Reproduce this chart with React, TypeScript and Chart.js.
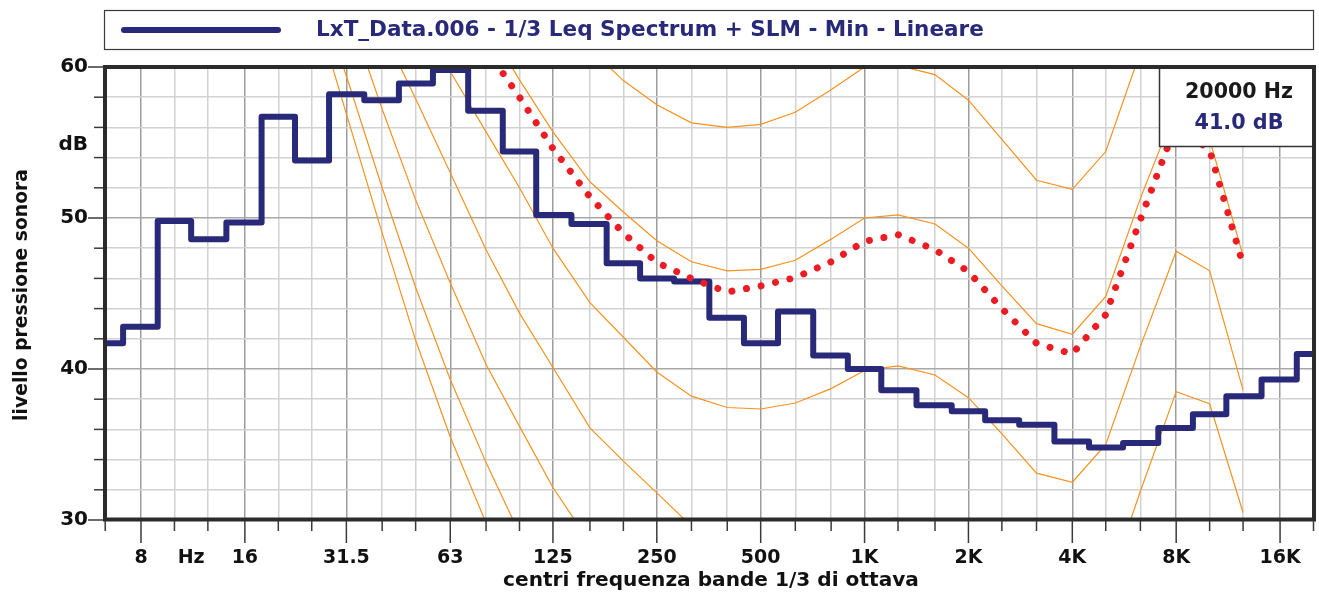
import React, { useEffect, useRef } from 'react';
import { Chart, registerables } from 'chart.js';

Chart.register(...registerables);

// ---------- axes ----------
const FREQ_MIN = 6.25;
const FREQ_MAX = 20000;
const DB_MIN = 30;
const DB_MAX = 60;
const DB_STEP = 2;

// ---------- 1/3 octave bands ----------
const BANDS = [6.3, 8, 10, 12.5, 16, 20, 25, 31.5, 40, 50, 63, 80, 100, 125, 160, 200, 250, 315, 400, 500, 630, 800, 1000, 1250, 1600, 2000, 2500, 3150, 4000, 5000, 6300, 8000, 10000, 12500, 16000, 20000];
const BAND_LABELS = ['', '8', '', '', '16', '', '', '31.5', '', '', '63', '', '', '125', '', '', '250', '', '', '500', '', '', '1K', '', '', '2K', '', '', '4K', '', '', '8K', '', '', '16K', ''];

// Leq spectrum (Min) per band, dB
const LEQ_MIN = [41.7, 42.8, 49.8, 48.6, 49.7, 56.7, 53.8, 58.2, 57.8, 58.9, 59.8, 57.1, 54.4, 50.2, 49.6, 47.0, 46.0, 45.8, 43.4, 41.7, 43.8, 40.9, 40.0, 38.6, 37.6, 37.2, 36.6, 36.3, 35.2, 34.8, 35.1, 36.1, 37.0, 38.2, 39.3, 41.0];

// ---------- equal loudness contours (20 Hz .. 12.5 kHz) ----------
const CONTOUR_BANDS = [20, 25, 31.5, 40, 50, 63, 80, 100, 125, 160, 200, 250, 315, 400, 500, 630, 800, 1000, 1250, 1600, 2000, 2500, 3150, 4000, 5000, 6300, 8000, 10000, 12500];
const CONTOUR_60 = [95, 89, 84, 79, 75, 71.5, 68.5, 66.5, 64, 61.2, 59.1, 57.5, 56.3, 56.0, 56.2, 57.0, 58.5, 60.0, 60.1, 59.5, 57.8, 55.2, 52.5, 51.9, 54.4, 61.0, 67.0, 64.5, 56.5];
const CONTOUR_50 = [88, 82, 77, 72.5, 69, 66.3, 62.8, 59.15, 55.7, 52.4, 50.4, 48.5, 47.1, 46.5, 46.6, 47.2, 48.6, 50.0, 50.2, 49.6, 48.0, 45.5, 43.0, 42.3, 44.8, 51.3, 57.3, 55.2, 47.5];
const CONTOUR_40 = [84, 78, 73, 68.5, 64, 59.7, 55.7, 52.0, 48.0, 44.4, 42.1, 39.8, 38.2, 37.45, 37.35, 37.75, 38.7, 39.9, 40.2, 39.6, 38.1, 35.7, 33.1, 32.5, 35.0, 41.5, 47.8, 46.5, 38.6];
const CONTOUR_30 = [80, 74, 68, 62.5, 57.9, 53.0, 47.9, 43.7, 40.1, 36.1, 33.9, 31.8, 29.6, 28.4, 28.3, 28.7, 29.2, 30.0, 30.12, 29.5, 28.0, 25.7, 23.3, 22.8, 25.2, 31.9, 38.5, 37.7, 30.5];
const CONTOUR_20 = [76, 70.5, 64.1, 57.2, 51.2, 45.7, 40.3, 36.2, 32.15, 28.5, 25.8, 23.5, 21.5, 20.4, 20.3, 20.7, 21.2, 22.0, 22.1, 21.5, 20.0, 17.7, 15.3, 14.8, 17.2, 23.9, 28.5, 27.7, 21.5];
const CONTOUR_10 = [73, 66.1, 59.4, 52.0, 45.4, 39.3, 33.8, 29.1, 25.0, 21.5, 19.0, 17.0, 15.0, 13.8, 13.5, 13.8, 14.3, 15.0, 15.1, 14.5, 13.0, 10.7, 8.3, 7.8, 10.2, 16.9, 21.5, 20.7, 14.5];
const CONTOUR_0 = [71, 64.6, 56.9, 49.0, 41.9, 35.5, 29.8, 25.0, 21.2, 18.0, 15.5, 13.5, 11.5, 10.3, 10.0, 10.3, 10.8, 11.5, 11.6, 11.0, 9.5, 7.2, 4.8, 4.3, 6.7, 13.4, 18.0, 17.2, 11.0];
// contour matching the spectrum (dotted red)
const LOUDNESS_CONTOUR = [87, 81, 76, 71.5, 67.5, 64.3, 61.2, 58.0, 54.6, 51.4, 49.0, 47.05, 46.0, 45.1, 45.5, 46.05, 47.1, 48.45, 48.9, 47.9, 46.45, 44.0, 41.7, 41.0, 43.6, 49.9, 56.2, 54.5, 46.9];

// ---------- texts ----------
const LEGEND_TEXT = 'LxT_Data.006 - 1/3 Leq Spectrum + SLM - Min - Lineare';
const X_TITLE = 'centri frequenza bande 1/3 di ottava';
const Y_TITLE = 'livello pressione sonora';
const X_UNIT = 'Hz';
const Y_UNIT = 'dB';
const CURSOR_FREQ = '20000 Hz';
const CURSOR_LEVEL = '41.0 dB';

const NAVY = '#29297A';
const ORANGE = '#F7921E';
const RED = '#EC1C24';
const FAMILY = '"DejaVu Sans", "Noto Sans", sans-serif';

function fitSize(ctx: CanvasRenderingContext2D, text: string, width: number): number {
  ctx.font = `bold 100px ${FAMILY}`;
  const w = ctx.measureText(text).width;
  return (100 * width) / w;
}

const decorPlugin = {
  id: 'decor',
  afterDatasetsDraw(chart: any) {
    const { ctx, chartArea: a, scales } = chart;
    const xs = scales.x;
    const ys = scales.y;
    ctx.save();

    // cursor readout box
    const bx = 1159;
    const by = a.top;
    const bw = a.right - bx;
    const bh = 79;
    ctx.fillStyle = '#ffffff';
    ctx.fillRect(bx, by, bw, bh);
    ctx.strokeStyle = '#333333';
    ctx.lineWidth = 1.5;
    ctx.strokeRect(bx + 0.5, by + 0.5, bw, bh);
    ctx.textAlign = 'center';
    ctx.textBaseline = 'middle';
    let s = fitSize(ctx, CURSOR_FREQ, 108);
    ctx.font = `bold ${s}px ${FAMILY}`;
    ctx.fillStyle = '#1a1a1a';
    ctx.fillText(CURSOR_FREQ, 1239, 93);
    s = fitSize(ctx, CURSOR_LEVEL, 89);
    ctx.font = `bold ${s}px ${FAMILY}`;
    ctx.fillStyle = NAVY;
    ctx.fillText(CURSOR_LEVEL, 1239, 124);

    // plot frame
    ctx.strokeStyle = '#2b2b2b';
    ctx.lineWidth = 4;
    ctx.strokeRect(a.left + 1, a.top, a.right - a.left - 0.5, a.bottom - a.top - 0.5);

    // tick marks
    ctx.strokeStyle = '#3a3a3a';
    ctx.lineWidth = 1.5;
    xs.ticks.forEach((t: any, i: number) => {
      const px = xs.getPixelForValue(t.value);
      const len = BAND_LABELS[i] ? 23 : 11;
      ctx.beginPath();
      ctx.moveTo(px, a.bottom + 1);
      ctx.lineTo(px, a.bottom + len);
      ctx.stroke();
    });
    ys.ticks.forEach((t: any) => {
      const py = ys.getPixelForValue(t.value);
      const len = t.value % 10 === 0 ? 16 : 10;
      ctx.beginPath();
      ctx.moveTo(a.left - len, py);
      ctx.lineTo(a.left - 1, py);
      ctx.stroke();
    });
    ctx.restore();
  },
  afterDraw(chart: any) {
    const { ctx, scales } = chart;
    const xs = scales.x;
    const ys = scales.y;
    ctx.save();

    // legend
    ctx.strokeStyle = '#3a3a3a';
    ctx.lineWidth = 1.2;
    ctx.strokeRect(104.5, 10.5, 1209, 39);
    ctx.strokeStyle = NAVY;
    ctx.lineWidth = 6;
    ctx.lineCap = 'round';
    ctx.beginPath();
    ctx.moveTo(124, 30);
    ctx.lineTo(278, 30);
    ctx.stroke();
    let s = fitSize(ctx, LEGEND_TEXT, 668);
    ctx.font = `bold ${s}px ${FAMILY}`;
    ctx.fillStyle = NAVY;
    ctx.textAlign = 'left';
    ctx.textBaseline = 'middle';
    ctx.fillText(LEGEND_TEXT, 316, 30);

    // unit labels on axes
    ctx.fillStyle = '#111111';
    ctx.font = `bold 19px ${FAMILY}`;
    ctx.textAlign = 'center';
    ctx.fillText(X_UNIT, xs.getPixelForValue(Math.sqrt(10 * 12.5)), 558);
    ctx.font = `bold 20px ${FAMILY}`;
    ctx.textAlign = 'right';
    ctx.fillText(Y_UNIT, 88, ys.getPixelForValue(54.85));

    // axis titles
    s = fitSize(ctx, X_TITLE, 416);
    ctx.font = `bold ${s}px ${FAMILY}`;
    ctx.textAlign = 'center';
    ctx.fillText(X_TITLE, 711, 581);
    s = fitSize(ctx, Y_TITLE, 252);
    ctx.font = `bold ${s}px ${FAMILY}`;
    ctx.translate(22, 295);
    ctx.rotate(-Math.PI / 2);
    ctx.fillText(Y_TITLE, 0, 0);
    ctx.restore();
  },
};

const toPoints = (freqs: number[], vals: number[]) => freqs.map((f, i) => ({ x: f, y: vals[i] }));

const orange = (label: string, vals: number[]) => ({
  label,
  data: toPoints(CONTOUR_BANDS, vals),
  borderColor: ORANGE,
  borderWidth: 1.2,
  pointRadius: 0,
  fill: false,
  tension: 0,
});

export default function App() {
  const ref = useRef<HTMLCanvasElement>(null);
  useEffect(() => {
    const chart = new Chart(ref.current as HTMLCanvasElement, {
      type: 'line',
      data: {
        datasets: [
          {
            label: 'loudness',
            data: toPoints(CONTOUR_BANDS, LOUDNESS_CONTOUR),
            borderColor: RED,
            borderWidth: 7,
            borderDash: [0.01, 14.8],
            borderCapStyle: 'round',
            pointRadius: 0,
            fill: false,
            tension: 0,
          },
          {
            label: LEGEND_TEXT,
            data: toPoints(BANDS, LEQ_MIN),
            stepped: 'middle',
            borderColor: NAVY,
            borderWidth: 6,
            borderJoinStyle: 'round',
            pointRadius: 0,
            fill: false,
          },
          orange('60', CONTOUR_60),
          orange('50', CONTOUR_50),
          orange('40', CONTOUR_40),
          orange('30', CONTOUR_30),
          orange('20', CONTOUR_20),
          orange('10', CONTOUR_10),
          orange('0', CONTOUR_0),
        ] as any,
      },
      options: {
        animation: false,
        responsive: false,
        devicePixelRatio: 1,
        events: [],
        layout: { padding: { left: 0, right: 5.5, top: 67, bottom: 0 } },
        plugins: { legend: { display: false }, tooltip: { enabled: false }, title: { display: false } },
        scales: {
          x: {
            type: 'logarithmic',
            min: FREQ_MIN,
            max: FREQ_MAX,
            afterBuildTicks: (s: any) => {
              s.ticks = BANDS.map((v) => ({ value: v }));
            },
            afterFit: (s: any) => {
              s.height = 78;
              s.paddingLeft = 0;
              s.paddingRight = 0;
            },
            grid: {
              color: (c: any) => (BAND_LABELS[c.index] ? '#9c9c9c' : '#d2d2d2'),
              lineWidth: 1.5,
              drawTicks: false,
            },
            border: { display: false },
            ticks: {
              autoSkip: false,
              maxRotation: 0,
              minRotation: 0,
              padding: 0,
              color: '#111111',
              font: { family: FAMILY, size: 19, weight: 'bold', lineHeight: '76px' },
              callback: (_v: any, i: number) => BAND_LABELS[i],
            },
          },
          y: {
            type: 'linear',
            min: DB_MIN,
            max: DB_MAX,
            afterFit: (s: any) => {
              s.width = 104;
            },
            grid: {
              color: (c: any) => (c.tick && c.tick.value % 10 === 0 ? '#a8a8a8' : '#d2d2d2'),
              lineWidth: 1.5,
              drawTicks: false,
            },
            border: { display: false },
            ticks: {
              stepSize: DB_STEP,
              autoSkip: false,
              padding: 16,
              color: '#111111',
              font: { family: FAMILY, size: 20, weight: 'bold', lineHeight: 1 },
              callback: (v: any) => (Number(v) % 10 === 0 ? String(v) : ''),
            },
          },
        },
      } as any,
      plugins: [decorPlugin],
    });
    return () => chart.destroy();
  }, []);

  return (
    <div style={{ position: 'fixed', left: 0, top: 0, width: 1319, height: 598, background: '#ffffff' }}>
      <canvas ref={ref} width={1319} height={598} style={{ display: 'block', width: 1319, height: 598 }} />
    </div>
  );
}
